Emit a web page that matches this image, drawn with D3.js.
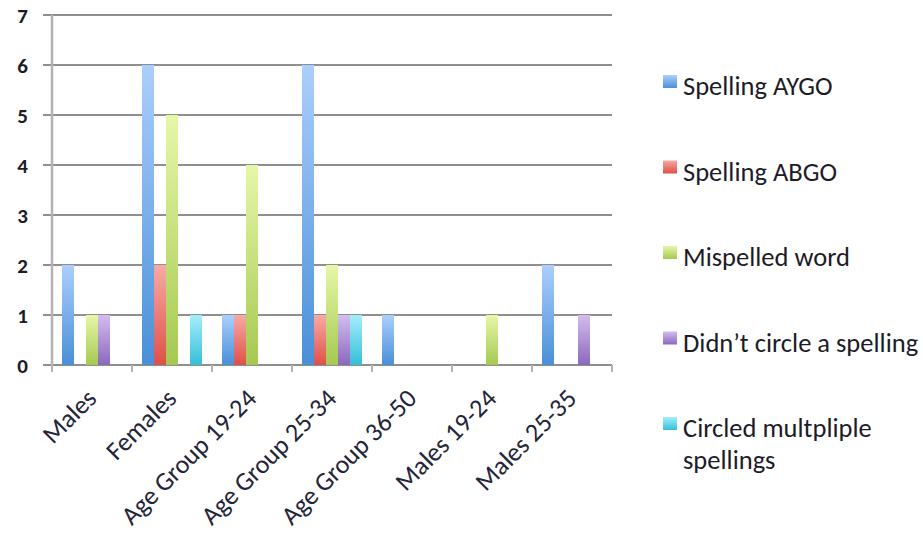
<!DOCTYPE html>
<html lang="en">
<head>
<meta charset="UTF-8">
<title>Spelling responses by group</title>
<script src="https://cdnjs.cloudflare.com/ajax/libs/d3/7.8.5/d3.min.js"></script>
<style>
    * { margin: 0; padding: 0; box-sizing: border-box; }
    body { background: #ffffff; width: 923px; height: 535px; overflow: hidden; }
    svg { display: block; font-family: Carlito, Lato, "Liberation Sans", sans-serif; }
    .grid line { stroke: #8f8f8f; stroke-width: 2; }
    .axis-line { stroke: #b3b3b3; stroke-width: 2.5; }
    .ylab { font-size: 21px; font-weight: 700; fill: #1c1c28; }
    .xlab { font-size: 26px; fill: #24243a; }
    .legend text { font-size: 26.5px; fill: #1c1c28; }
</style>
</head>
<body>
<div id="chart"></div>
<script>
    // Data
    const categories = ["Males", "Females", "Age Group 19-24", "Age Group 25-34",
                        "Age Group 36-50", "Males 19-24", "Males 25-35"];
    const seriesNames = ["Spelling AYGO", "Spelling ABGO", "Mispelled word",
                         "Didn\u2019t circle a spelling", "Circled multpliple spellings"];
    const legendLines = [["Spelling AYGO"], ["Spelling ABGO"], ["Mispelled word"],
                         ["Didn\u2019t circle a spelling"], ["Circled multpliple", "spellings"]];
    const spellingAYGO = [2, 6, 1, 6, 1, 0, 2];
    const spellingABGO = [0, 2, 1, 1, 0, 0, 0];
    const mispelledWord = [1, 5, 4, 2, 0, 1, 0];
    const didntCircle = [1, 0, 0, 1, 0, 0, 1];
    const circledMultiple = [0, 1, 0, 1, 0, 0, 0];
    const yTicks = [0, 1, 2, 3, 4, 5, 6, 7];

    const seriesValues = [spellingAYGO, spellingABGO, mispelledWord, didntCircle, circledMultiple];
    // top / bottom colour of each bar gradient
    const colors = [
        ["#abcffc", "#4a8fd8"],
        ["#f7aaa5", "#de5049"],
        ["#e6f7a8", "#a5c950"],
        ["#d3bdee", "#8b68bd"],
        ["#a3eefb", "#36bfd9"]
    ];

    const W = 923, H = 535;
    const plot = {left: 52, right: 612, top: 15, bottom: 365};

    const svg = d3.select("#chart").append("svg")
        .attr("width", W).attr("height", H);

    const defs = svg.append("defs");
    colors.forEach((c, i) => {
        const g = defs.append("linearGradient")
            .attr("id", "grad" + i)
            .attr("x1", 0).attr("y1", 0).attr("x2", 0).attr("y2", 1);
        g.append("stop").attr("offset", "0%").attr("stop-color", c[0]);
        g.append("stop").attr("offset", "100%").attr("stop-color", c[1]);
    });

    // Scales
    const x = d3.scaleBand().domain(categories).range([plot.left, plot.right]);
    const xs = d3.scaleBand().domain(d3.range(seriesNames.length))
        .range([0, x.bandwidth()]).paddingOuter(0.8333);
    const y = d3.scaleLinear().domain([0, 7]).range([plot.bottom, plot.top]);

    // Gridlines
    svg.append("g").attr("class", "grid")
        .selectAll("line").data(yTicks).join("line")
        .attr("x1", plot.left - 9).attr("x2", plot.right)
        .attr("y1", d => y(d)).attr("y2", d => y(d));

    // Left axis line
    svg.append("line").attr("class", "axis-line")
        .attr("x1", plot.left).attr("x2", plot.left)
        .attr("y1", y(7)).attr("y2", y(0) + 1);

    // Category boundary ticks
    const bounds = categories.map(c => x(c)).concat([plot.right]);
    svg.append("g").attr("class", "grid")
        .selectAll("line").data(bounds).join("line")
        .attr("x1", d => d).attr("x2", d => d)
        .attr("y1", y(0)).attr("y2", y(0) + 7)
        .style("stroke", "#b3b3b3");

    // Y labels
    svg.append("g").selectAll("text").data(yTicks).join("text")
        .attr("class", "ylab")
        .attr("x", 28).attr("y", d => y(d))
        .attr("dy", "0.36em")
        .attr("text-anchor", "end")
        .text(d => d);

    // Bars
    const groups = svg.append("g").selectAll("g")
        .data(categories).join("g")
        .attr("transform", c => `translate(${x(c)},0)`);

    groups.selectAll("rect")
        .data((c, ci) => seriesValues.map((vals, si) => ({si, v: vals[ci]})))
        .join("rect")
        .attr("x", d => xs(d.si))
        .attr("width", xs.bandwidth())
        .attr("y", d => y(d.v))
        .attr("height", d => y(0) - y(d.v))
        .attr("fill", d => `url(#grad${d.si})`);

    // X labels (rotated)
    svg.append("g").selectAll("text").data(categories).join("text")
        .attr("class", "xlab")
        .attr("text-anchor", "end")
        .attr("transform", c => `translate(${x(c) + x.bandwidth() / 2 + 6},400) rotate(-45)`)
        .text(c => c);

    // Legend
    const legend = svg.append("g").attr("class", "legend")
        .attr("transform", "translate(663,95)");
    const items = legend.selectAll("g").data(legendLines).join("g")
        .attr("transform", (d, i) => `translate(0,${i * 85.5})`);
    items.append("rect")
        .attr("x", 0).attr("y", -20)
        .attr("width", 14).attr("height", 13)
        .attr("fill", (d, i) => `url(#grad${i})`);
    items.append("text")
        .attr("x", 20)
        .selectAll("tspan").data(d => d).join("tspan")
        .attr("x", 20)
        .attr("y", (d, j) => j * 32)
        .text(d => d);
</script>
</body>
</html>
